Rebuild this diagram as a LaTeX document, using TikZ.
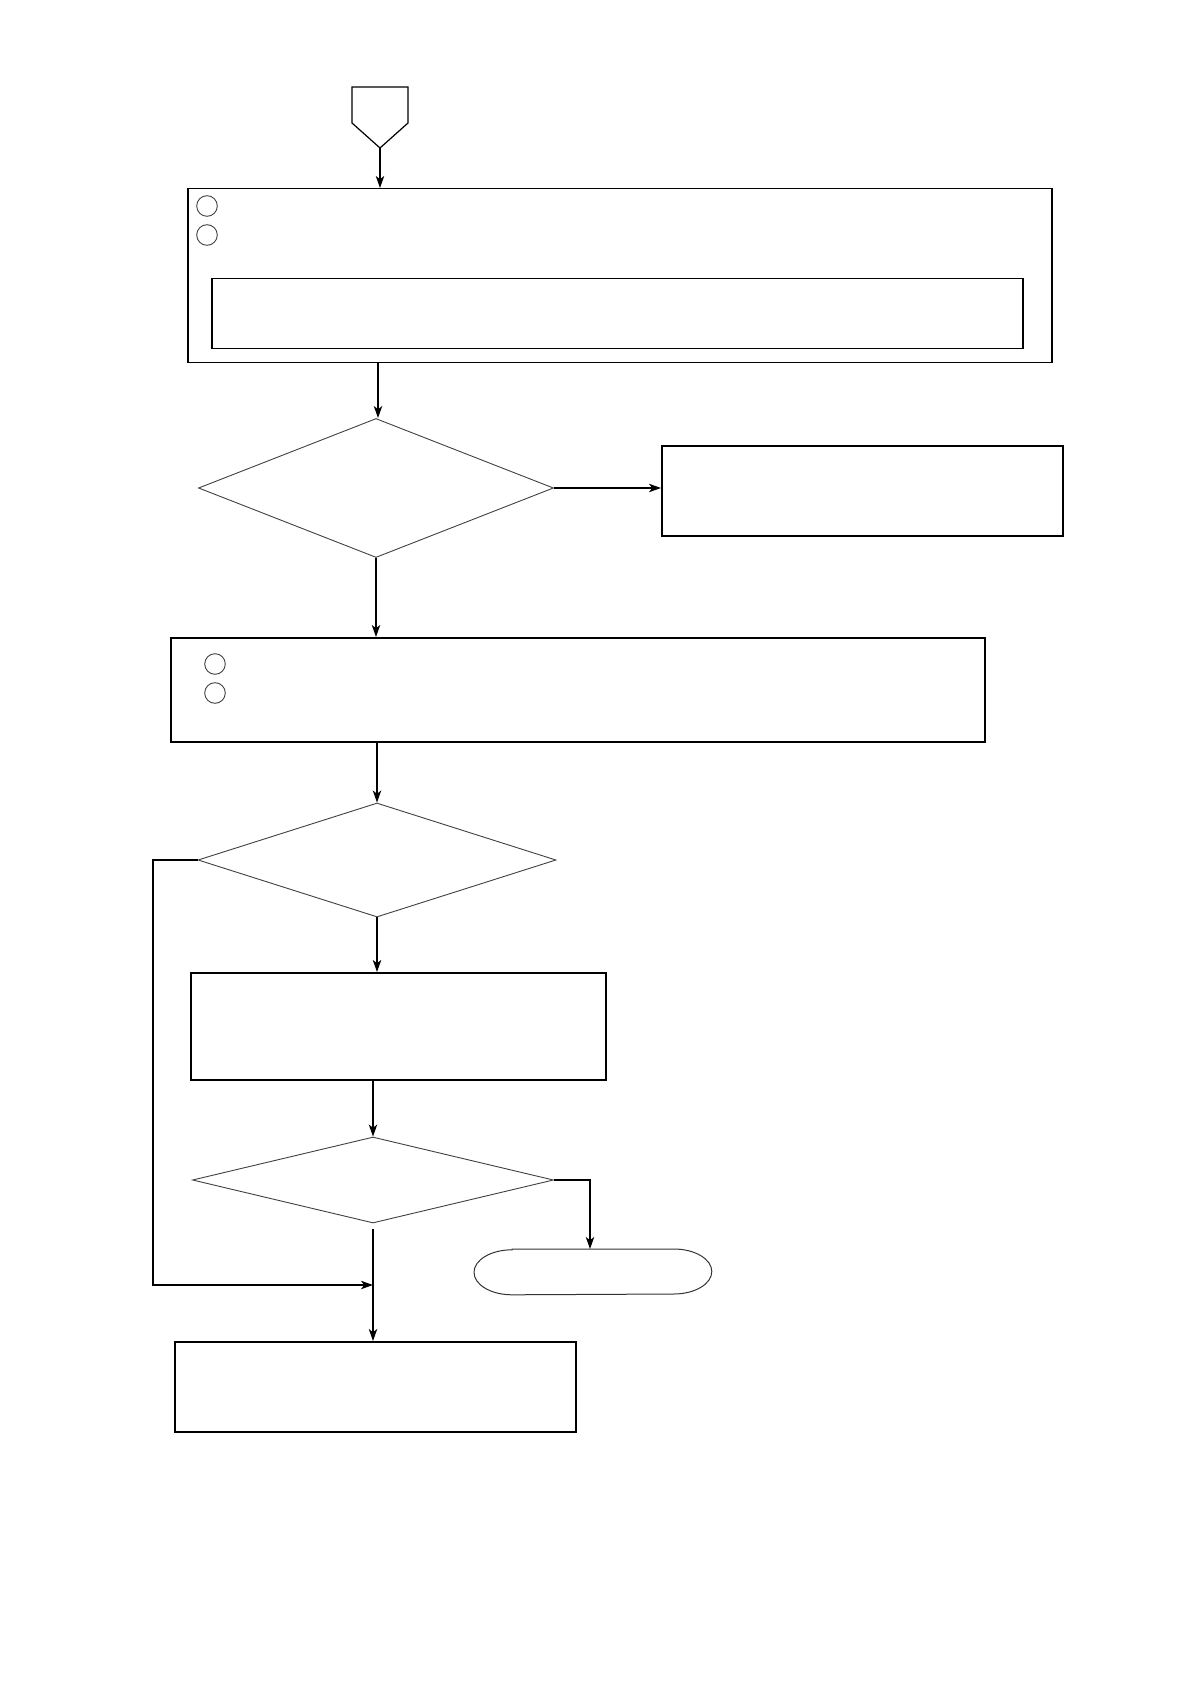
\documentclass[tikz,border=0pt]{standalone}
\usetikzlibrary{shapes.geometric,arrows.meta,calc}
\begin{document}
\begin{tikzpicture}[x=0.5pt,y=-0.5pt,
  boxnode/.style={draw=black,line width=0.75pt,inner sep=0pt,anchor=north west},
  decnode/.style={diamond,draw=black!75,line width=0.45pt,inner sep=0pt,aspect=2.5},
  ringnode/.style={circle,draw=black!75,line width=0.45pt,inner sep=0pt,minimum size=10.3pt},
  conn/.style={line width=0.75pt,-{Stealth[length=6pt,width=4.2pt,inset=1.6pt]}},
  plainline/.style={line width=0.75pt}]
\useasboundingbox (0,0) rectangle (1191,1684);
% start connector (pentagon)
\draw[line width=0.6pt] (352,87) -- (408,87) -- (408,123) -- (380,148) -- (352,123) -- cycle;
\coordinate (start) at (380,148);
% box 1 with inner box
\node[boxnode,minimum width=432pt,minimum height=87pt] (b1) at (187,188) {};
\node[ringnode] (c1) at (207,206) {};
\node[ringnode] (c2) at (207,235) {};
\node[boxnode,minimum width=405.5pt,minimum height=35pt] (b1in) at (211,278) {};
% decision 1
\node[decnode,minimum width=177.5pt,minimum height=69.5pt] (d1) at (376,488) {};
\node[boxnode,minimum width=200.5pt,minimum height=45pt] (r1) at (661,445) {};
% box 2
\node[boxnode,minimum width=407pt,minimum height=52pt] (b2) at (170,637) {};
\node[ringnode] (c3) at (215,664) {};
\node[ringnode] (c4) at (215,693) {};
% decision 2
\node[decnode,minimum width=179pt,minimum height=57pt] (d2) at (377,860) {};
% box 3
\node[boxnode,minimum width=207.5pt,minimum height=53.5pt] (b3) at (190,972) {};
% decision 3
\node[decnode,minimum width=180.5pt,minimum height=43pt] (d3) at (373,1180) {};
% terminal
\node[draw=none,inner sep=0pt,anchor=north west,minimum width=118.5pt,minimum height=22.5pt] (term) at (474,1249) {};
\draw[black!80,line width=0.5pt] ($(term.north west)+(38,0)$) -- ($(term.north east)+(-38,0)$)
  arc[start angle=90,end angle=-90,x radius=19pt,y radius=11.25pt]
  -- ($(term.south west)+(38,0)$)
  arc[start angle=270,end angle=90,x radius=19pt,y radius=11.25pt] -- cycle;
% box 4
\node[boxnode,minimum width=200.5pt,minimum height=45pt] (b4) at (174,1341) {};
\coordinate (join) at (373,1285);
\coordinate (loopx) at (153,0);
\coordinate (termx) at (590,0);
% connectors
\draw[conn] (start) -- (start |- b1.north);
\draw[conn] (b1.south -| 378,0) -- (d1.north -| 378,0);
\draw[conn] (d1.east) -- (d1.east -| r1.west);
\draw[conn] (d1.south) -- (d1.south |- b2.north);
\draw[conn] (b2.south -| 377,0) -- (d2.north);
\draw[conn] (d2.south) -- (d2.south |- b3.north);
\draw[conn] (b3.south -| d3.north) -- (d3.north);
\draw[conn] (d3.east) -- (d3.east -| termx) -- (termx |- term.north);
\draw[conn] (d2.west) -- (d2.west -| loopx) -- (loopx |- join) -- (join);
\draw[conn] ($(d3.south)+(0,6)$) -- (d3.south |- b4.north);
\end{tikzpicture}
\end{document}
